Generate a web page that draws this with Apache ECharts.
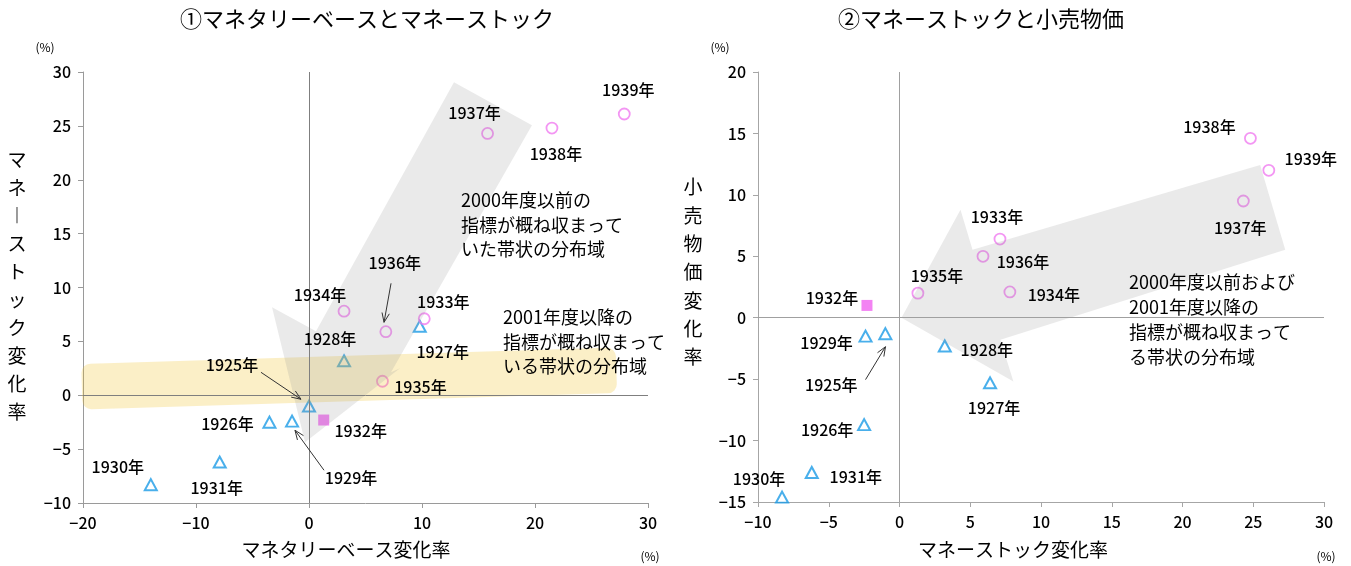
<!DOCTYPE html>
<html>
<head>
<meta charset="utf-8">
<script src="https://cdn.jsdelivr.net/npm/echarts@6/dist/echarts.min.js"></script>
<style>
  html, body { margin: 0; padding: 0; background: #ffffff; }
  #chart { width: 1351px; height: 566px; }
</style>
</head>
<body>
<div id="chart"></div>
<script>
// ---- data (annual change, %) ----
const years = ['1925年','1926年','1927年','1928年','1929年','1930年','1931年','1932年',
               '1933年','1934年','1935年','1936年','1937年','1938年','1939年'];
const monetaryBase = [0.0, -3.5, 9.8, 3.1, -1.5, -14.0, -7.9, 1.3, 10.2, 3.1, 6.5, 6.8, 15.8, 21.5, 27.9];
const moneyStock   = [-1.0, -2.5, 6.4, 3.2, -2.4, -8.3, -6.2, -2.3, 7.1, 7.8, 1.3, 5.9, 24.3, 24.8, 26.1];
const retailPrice  = [-1.3, -8.7, -5.3, -2.3, -1.5, -14.6, -12.6, 1.0, 6.4, 2.1, 2.0, 5.0, 9.5, 14.6, 12.0];
// marker group for each year: 1925-31 / 1932 / 1933-39
const period = ['a','a','a','a','a','a','a','b','c','c','c','c','c','c','c'];

// tick values
const leftXTicks  = [-20, -10, 0, 10, 20, 30];
const leftYTicks  = [-10, -5, 0, 5, 10, 15, 20, 25, 30];
const rightXTicks = [-10, -5, 0, 5, 10, 15, 20, 25, 30];
const rightYTicks = [-15, -10, -5, 0, 5, 10, 15, 20];

// ---- label placement (pixel offsets from each point) ----
const leftLabelOffsets = [[-77,-41],[-42,2],[23,26],[-14,-22],[59,57],[-33,-18],[-3,26],[37,11],
                          [19,-17],[-24,-16],[38,6],[9,-69],[-13,-20],[4,26],[4,-24]];
const rightLabelOffsets = [[-54,51],[-37,5],[4,25],[42,4],[-39,7],[-23,-18],[44,4],[-35,-8],
                           [-3,-22],[44,3],[19,-17],[40,6],[-3,27],[-41,-11],[42,-11]];

// ---- annotation shapes, in axis units ----
const leftArrowShape = [[12.83,29.04],[19.73,25.05],[7.26,2.13],[8.05,2.50],[-0.35,-4.36],[-3.27,8.16],[0.62,5.94]];
const leftBandShape  = [[-20.1,2.97],[27.2,4.36],[27.2,0.28],[-20.1,-1.39]];
const rightArrowShape = [[25.49,12.44],[27.26,5.53],[7.13,-1.79],[8.05,-5.20],[0.14,0.0],[4.31,8.78],[5.16,5.53]];
// pointer arrows from labels to points: [x1, y1, x2, y2]
const leftPointers  = [[-4.25,2.13,-0.71,-0.37],[1.33,-6.96,-1.24,-3.25],[7.26,10.39,6.64,6.77]];
const rightPointers = [[-2.40,-5.04,-0.99,-2.36]];

const FONT = "'Noto Sans CJK JP', 'Noto Sans', sans-serif";
const BLUE = '#1c9be6';
const PINK = '#f07cf0';
const PINK_FILL = '#f064f0';

const chart = echarts.init(document.getElementById('chart'), null, { renderer: 'canvas' });

function fmtTick(v) { return String(v).replace('-', '\u2212'); }

function makeAxis(ticks, gi, lineColor) {
  return {
    type: 'value', gridIndex: gi,
    min: ticks[0], max: ticks[ticks.length - 1], interval: ticks[1] - ticks[0],
    splitLine: { show: false },
    axisLine: { onZero: false, lineStyle: { color: lineColor, width: 1 } },
    axisTick: { show: true, length: 5, lineStyle: { color: lineColor } },
    axisLabel: { color: '#000', fontSize: 16, fontWeight: 500, fontFamily: FONT, margin: 12, formatter: fmtTick }
  };
}

function pointsFor(xs, ys, key) {
  const out = [];
  years.forEach((y, i) => { if (period[i] === key) out.push([xs[i], ys[i]]); });
  return out;
}

function markerSeries(gi, xs, ys, zeroColor) {
  const base = { type: 'scatter', xAxisIndex: gi, yAxisIndex: gi, z: 2, silent: true, animation: false };
  return [
    Object.assign({}, base, {
      symbol: 'triangle', symbolSize: [12, 11],
      itemStyle: { color: 'rgba(255,255,255,0)', borderColor: BLUE, borderWidth: 2 },
      data: pointsFor(xs, ys, 'a'),
      markLine: {
        silent: true, symbol: 'none', animation: false, label: { show: false },
        lineStyle: { color: zeroColor, width: 1, type: 'solid' },
        data: [{ xAxis: 0 }, { yAxis: 0 }]
      }
    }),
    Object.assign({}, base, {
      symbol: 'rect', symbolSize: 11,
      itemStyle: { color: PINK_FILL },
      data: pointsFor(xs, ys, 'b')
    }),
    Object.assign({}, base, {
      symbol: 'circle', symbolSize: 11,
      itemStyle: { color: 'rgba(255,255,255,0)', borderColor: PINK, borderWidth: 1.8 },
      data: pointsFor(xs, ys, 'c')
    })
  ];
}

function labelSeries(gi, xs, ys, offsets) {
  return {
    type: 'scatter', xAxisIndex: gi, yAxisIndex: gi, z: 6, silent: true, animation: false,
    symbol: 'circle', symbolSize: 1, itemStyle: { color: 'rgba(0,0,0,0)' },
    data: years.map((name, i) => ({
      value: [xs[i], ys[i]],
      label: {
        show: true, position: 'inside', offset: offsets[i], formatter: name,
        color: '#000', fontSize: 16, fontWeight: 500, fontFamily: FONT,
        textBorderWidth: 0, textShadowBlur: 0, opacity: 1,
        align: 'center', verticalAlign: 'middle'
      }
    }))
  };
}

function polygonSeries(gi, shape, fill, z) {
  return {
    type: 'custom', xAxisIndex: gi, yAxisIndex: gi, z: z, silent: true, animation: false,
    data: [[shape[0][0], shape[0][1]]],
    renderItem: function (params, api) {
      return {
        type: 'polygon',
        shape: { points: shape.map(p => api.coord(p)) },
        style: { fill: fill }
      };
    }
  };
}

// a rounded band defined by its four corners (tl, tr, br, bl)
function bandSeries(gi, shape, fill, z) {
  return {
    type: 'custom', xAxisIndex: gi, yAxisIndex: gi, z: z, silent: true, animation: false,
    data: [[shape[0][0], shape[0][1]]],
    renderItem: function (params, api) {
      const p = shape.map(q => api.coord(q));
      const lm = [(p[0][0] + p[3][0]) / 2, (p[0][1] + p[3][1]) / 2];
      const rm = [(p[1][0] + p[2][0]) / 2, (p[1][1] + p[2][1]) / 2];
      const w = Math.hypot(rm[0] - lm[0], rm[1] - lm[1]);
      const h = (Math.hypot(p[3][0] - p[0][0], p[3][1] - p[0][1]) + Math.hypot(p[2][0] - p[1][0], p[2][1] - p[1][1])) / 2;
      const ang = Math.atan2(rm[1] - lm[1], rm[0] - lm[0]);
      return {
        type: 'rect',
        x: (lm[0] + rm[0]) / 2, y: (lm[1] + rm[1]) / 2, rotation: -ang,
        shape: { x: -w / 2, y: -h / 2, width: w, height: h, r: 9 },
        style: { fill: fill }
      };
    }
  };
}

function pointerSeries(gi, arrows) {
  return {
    type: 'custom', xAxisIndex: gi, yAxisIndex: gi, z: 6, silent: true, animation: false,
    encode: { x: [0, 2], y: [1, 3] },
    data: arrows,
    renderItem: function (params, api) {
      const a = api.coord([api.value(0), api.value(1)]);
      const b = api.coord([api.value(2), api.value(3)]);
      const ang = Math.atan2(b[1] - a[1], b[0] - a[0]);
      const L = 10, s = 0.38;
      const h1 = [b[0] - L * Math.cos(ang - s), b[1] - L * Math.sin(ang - s)];
      const h2 = [b[0] - L * Math.cos(ang + s), b[1] - L * Math.sin(ang + s)];
      return {
        type: 'group',
        children: [
          { type: 'line', shape: { x1: a[0], y1: a[1], x2: b[0], y2: b[1] }, style: { stroke: '#333', lineWidth: 1 } },
          { type: 'polyline', shape: { points: [h1, b, h2] }, style: { stroke: '#333', lineWidth: 1, fill: null } }
        ]
      };
    }
  };
}

function txt(x, y, text, size, opts) {
  opts = opts || {};
  const align = opts.align || 'center';
  const valign = opts.valign || 'middle';
  return {
    type: 'text', x: x, y: y, z: 100, silent: true,
    style: {
      text: text, fill: '#000', fontSize: size, fontFamily: FONT,
      fontWeight: opts.weight || 'normal',
      lineHeight: opts.lineHeight || size * 1.3,
      align: align, textAlign: align, verticalAlign: valign, textVerticalAlign: valign
    }
  };
}

const option = {
  animation: false,
  backgroundColor: '#ffffff',
  textStyle: { fontFamily: FONT },
  grid: [
    { left: 83, top: 72, width: 565, height: 431 },
    { left: 758, top: 72, width: 566, height: 430 }
  ],
  xAxis: [makeAxis(leftXTicks, 0, '#9a9a9a'), makeAxis(rightXTicks, 1, '#a6a6a6')],
  yAxis: [makeAxis(leftYTicks, 0, '#9a9a9a'), makeAxis(rightYTicks, 1, '#a6a6a6')],
  series: [].concat(
    markerSeries(0, monetaryBase, moneyStock, '#7f7f7f'),
    markerSeries(1, moneyStock, retailPrice, '#a0a0a0'),
    [
      bandSeries(0, leftBandShape, 'rgba(240,190,30,0.25)', 3),
      polygonSeries(0, leftArrowShape, 'rgba(150,150,150,0.2)', 4),
      polygonSeries(1, rightArrowShape, 'rgba(150,150,150,0.2)', 4),
      labelSeries(0, monetaryBase, moneyStock, leftLabelOffsets),
      labelSeries(1, moneyStock, retailPrice, rightLabelOffsets),
      pointerSeries(0, leftPointers),
      pointerSeries(1, rightPointers)
    ]
  ),
  graphic: { elements: [
    txt(367, 19, '①マネタリーベースとマネーストック', 22),
    txt(981, 19, '②マネーストックと小売物価', 22),
    txt(45, 47, '(%)', 12),
    txt(650, 556, '(%)', 12),
    txt(720, 47, '(%)', 12),
    txt(1326, 556, '(%)', 12),
    txt(346, 550, 'マネタリーベース変化率', 19),
    txt(1013, 550, 'マネーストック変化率', 19),
    txt(17, 286, 'マ\nネ\n︱\nス\nト\nッ\nク\n変\n化\n率', 19, { lineHeight: 28 }),
    txt(693, 272, '小\n売\n物\n価\n変\n化\n率', 19, { lineHeight: 28.3 }),
    txt(461, 188, '2000年度以前の\n指標が概ね収まって\nいた帯状の分布域', 18, { align: 'left', valign: 'top', lineHeight: 24.5 }),
    txt(503, 305, '2001年度以降の\n指標が概ね収まって\nいる帯状の分布域', 18, { align: 'left', valign: 'top', lineHeight: 24.5 }),
    txt(1129, 270, '2000年度以前および\n2001年度以降の\n指標が概ね収まって\nる帯状の分布域', 18, { align: 'left', valign: 'top', lineHeight: 25 })
  ] }
};

chart.setOption(option);
</script>
</body>
</html>
